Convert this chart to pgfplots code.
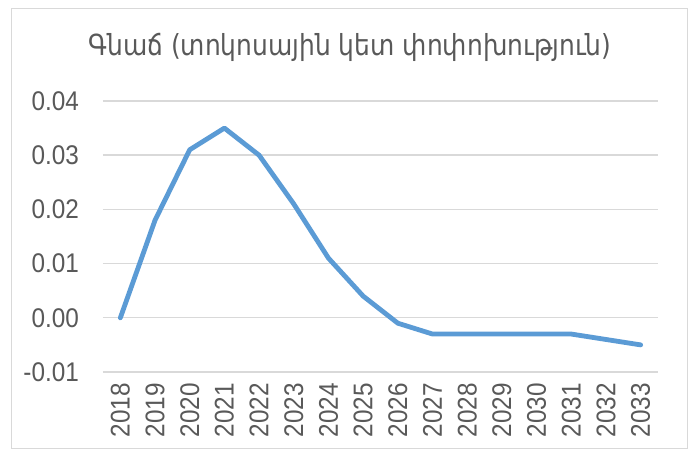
\documentclass[border=0pt]{standalone}
\usepackage{fontspec}
\setmainfont{Liberation Sans}[FakeStretch=0.9]
\newfontfamily\armfont{DejaVu Sans}[FakeStretch=0.86]
\usepackage{pgfplots}
\pgfplotsset{compat=1.18}
\definecolor{linea}{HTML}{5B9BD5}
\definecolor{rejilla}{HTML}{D9D9D9}
\definecolor{texto}{HTML}{595959}

\begin{document}
\begin{tikzpicture}[x=1bp,y=1bp]
% page bounds and chart frame
\path[use as bounding box] (-103,-82) rectangle (591,372);
\fill[white] (-103,-82) rectangle (591,372);
\draw[rejilla,line width=1bp] (-91,-77) rectangle (584,363);
\begin{axis}[at={(0,0)},anchor=south west,scale only axis,width=555bp,height=271bp,
 xmin=-0.5,xmax=15.5,ymin=-0.01,ymax=0.04,
 axis line style={draw=none},major tick length=0pt,
 xtick={0,...,15},xticklabels={2018,2019,2020,2021,2022,2023,2024,2025,2026,2027,2028,2029,2030,2031,2032,2033},
 ytick={-0.01,0,0.01,0.02,0.03,0.04},
 ymajorgrids,grid style={rejilla,line width=1.4bp},
 /pgf/number format/assume math mode=true,
 yticklabel style={/pgf/number format/fixed,/pgf/number format/fixed zerofill,/pgf/number format/precision=2},
 ticklabel style={font=\fontsize{27bp}{31bp}\selectfont,text=texto},
 xticklabel style={rotate=90,anchor=east,inner sep=2bp,xshift=-9bp},
 yticklabel style={inner sep=2bp,xshift=-22bp},
 scaled y ticks=false,clip=false]
\addplot[linea,line width=4.8bp,line join=round,line cap=round] coordinates {
(0,0) (1,0.018) (2,0.031) (3,0.035) (4,0.030) (5,0.021) (6,0.011) (7,0.004)
(8,-0.001) (9,-0.003) (10,-0.003) (11,-0.003) (12,-0.003) (13,-0.003) (14,-0.004) (15,-0.005)};
\end{axis}
\node[text=texto,font=\armfont\fontsize{29bp}{33bp}\selectfont] at (247,325) {Գնաճ (տոկոսային կետ փոփոխություն)};
\end{tikzpicture}
\end{document}
